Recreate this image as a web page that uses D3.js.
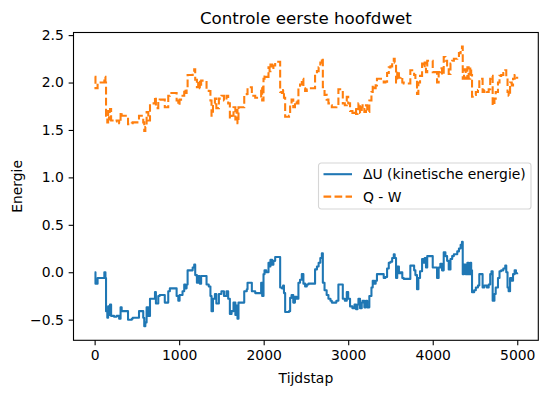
<!DOCTYPE html>
<html>
<head>
<meta charset="utf-8">
<script src="https://cdn.jsdelivr.net/npm/d3@7"></script>
<style>
  body { margin: 0; background: #fff; }
  text { font-family: "DejaVu Sans", sans-serif; }
</style>
</head>
<body>
<svg id="vis-svg" width="547" height="393"></svg>
<script>
var width  = 547;
var height = 393;
var margin = {top: 32.5, bottom: 52.7, left: 73.5, right: 8.7};

// tijdstappen waarop de waarde verandert
const steps = [
  0,10,35,100,115,128,135,150,160,170,
  182,195,230,260,290,307,320,380,395,440,
  450,520,525,560,575,587,600,615,635,655,
  700,714,725,740,753,770,810,830,850,871,
  890,950,970,990,1005,1040,1060,1075,1088,1100,
  1140,1160,1178,1190,1210,1225,1245,1260,1290,1324,
  1350,1370,1383,1400,1423,1440,1470,1500,1530,1560,
  1580,1600,1620,1643,1665,1680,1690,1702,1760,1770,
  1800,1809,1850,1860,1900,1960,1970,1982,1998,2010,
  2030,2057,2070,2080,2100,2115,2136,2190,2195,2215,
  2230,2240,2254,2300,2313,2330,2350,2370,2390,2411,
  2430,2451,2470,2490,2510,2530,2590,2608,2630,2650,
  2670,2688,2700,2720,2745,2766,2790,2806,2860,2884,
  2910,2936,2960,2983,3000,3022,3050,3075,3093,3110,
  3121,3140,3160,3170,3191,3210,3225,3250,3275,3290,
  3310,3325,3340,3360,3380,3400,3420,3440,3460,3480,
  3500,3520,3539,3550,3566,3580,3600,3620,3640,3657,
  3700,3735,3770,3780,3795,3814,3830,3850,3874,3890,
  3905,3920,3935,3985,4000,4051,4070,4090,4110,4130,
  4150,4170,4189,4210,4230,4250,4270,4290,4310,4330,
  4346,4355,4370,4390,4410,4425,4444,4455,4465,4490,
  4510,4535,4551,4575,4590,4610,4640,4662,4680,4695,
  4709,4730,4745,4772,4790,4810,4835,4858,4870,4885,
  4898,4915,4935,4950,4969,4985,4999
];

const deltaU = [
  0.00,-0.12,-0.06,-0.06,0.00,-0.06,-0.41,-0.48,-0.36,-0.45,
  -0.34,-0.46,-0.47,-0.46,-0.49,-0.37,-0.41,-0.41,-0.50,-0.49,
  -0.48,-0.48,-0.41,-0.41,-0.48,-0.57,-0.53,-0.37,-0.46,-0.28,
  -0.28,-0.21,-0.33,-0.33,-0.25,-0.24,-0.24,-0.32,-0.32,-0.20,
  -0.17,-0.17,-0.25,-0.30,-0.24,-0.20,-0.13,-0.17,-0.13,0.02,
  0.02,0.05,0.08,-0.03,-0.11,-0.04,-0.12,-0.04,-0.04,-0.13,
  -0.15,-0.25,-0.41,-0.28,-0.23,-0.33,-0.23,-0.20,-0.25,-0.20,
  -0.28,-0.44,-0.41,-0.32,-0.45,-0.35,-0.49,-0.32,-0.32,-0.20,
  -0.18,-0.11,-0.11,-0.20,-0.22,-0.22,-0.11,-0.25,-0.02,0.02,
  0.00,0.10,0.06,0.13,0.08,0.12,0.16,0.16,-0.16,-0.17,
  -0.14,-0.22,-0.42,-0.41,-0.27,-0.24,-0.32,-0.26,-0.28,-0.11,
  -0.08,-0.02,-0.12,-0.15,-0.13,-0.12,-0.12,0.03,0.06,0.10,
  0.15,0.20,-0.11,-0.19,-0.24,-0.28,-0.30,-0.32,-0.30,-0.13,
  -0.13,-0.28,-0.30,-0.21,-0.28,-0.36,-0.38,-0.34,-0.39,-0.34,
  -0.28,-0.38,-0.32,-0.30,-0.37,-0.30,-0.37,-0.25,-0.16,-0.09,
  -0.12,-0.09,-0.02,-0.02,-0.02,-0.02,-0.06,-0.05,0.04,0.10,
  0.11,0.15,0.19,0.15,-0.06,0.06,-0.01,0.00,-0.06,-0.07,
  -0.07,0.07,0.07,0.02,-0.03,-0.18,-0.06,0.01,0.14,0.10,
  0.15,0.05,0.17,0.17,0.05,-0.06,0.05,0.09,0.02,0.21,
  0.17,0.12,0.03,0.14,0.17,0.19,0.19,0.22,0.25,0.29,
  0.32,-0.02,0.08,-0.02,0.10,-0.02,0.10,0.02,-0.21,-0.19,
  -0.16,-0.14,-0.02,-0.02,-0.16,-0.14,-0.16,-0.13,-0.02,0.01,
  -0.30,-0.23,-0.16,-0.06,0.01,0.02,0.04,0.07,0.00,-0.16,
  -0.20,-0.06,-0.09,-0.02,0.02,-0.01,-0.02
];

const qMinusW = [
  2.06,1.94,2.00,2.00,2.06,2.00,1.65,1.58,1.70,1.61,
  1.72,1.60,1.59,1.60,1.57,1.69,1.65,1.65,1.56,1.57,
  1.58,1.58,1.65,1.65,1.58,1.49,1.53,1.69,1.60,1.78,
  1.78,1.85,1.73,1.73,1.81,1.82,1.82,1.74,1.74,1.86,
  1.89,1.89,1.81,1.76,1.82,1.86,1.93,1.89,1.93,2.08,
  2.08,2.11,2.14,2.03,1.95,2.02,1.94,2.02,2.02,1.93,
  1.91,1.81,1.65,1.78,1.83,1.73,1.83,1.86,1.81,1.86,
  1.78,1.62,1.65,1.74,1.61,1.71,1.57,1.74,1.74,1.86,
  1.88,1.95,1.95,1.86,1.84,1.84,1.95,1.81,2.04,2.08,
  2.06,2.16,2.12,2.19,2.14,2.18,2.22,2.22,1.90,1.89,
  1.92,1.84,1.64,1.65,1.79,1.82,1.74,1.80,1.78,1.95,
  1.98,2.04,1.94,1.91,1.93,1.94,1.94,2.09,2.12,2.16,
  2.21,2.26,1.95,1.87,1.82,1.78,1.76,1.74,1.76,1.93,
  1.93,1.78,1.76,1.85,1.78,1.70,1.68,1.72,1.67,1.72,
  1.78,1.68,1.74,1.76,1.69,1.76,1.69,1.81,1.90,1.97,
  1.94,1.97,2.04,2.04,2.04,2.04,2.00,2.01,2.10,2.16,
  2.17,2.21,2.25,2.21,2.00,2.12,2.05,2.06,2.00,1.99,
  1.99,2.13,2.13,2.08,2.03,1.88,2.00,2.07,2.20,2.16,
  2.21,2.11,2.23,2.23,2.11,2.00,2.11,2.15,2.08,2.27,
  2.23,2.18,2.09,2.20,2.23,2.25,2.25,2.28,2.31,2.35,
  2.38,2.04,2.14,2.04,2.16,2.04,2.16,2.08,1.85,1.87,
  1.90,1.92,2.04,2.04,1.90,1.92,1.90,1.93,2.04,2.07,
  1.76,1.83,1.90,2.00,2.07,2.08,2.10,2.13,2.06,1.90,
  1.86,2.00,1.97,2.04,2.08,2.05,2.04
];

const xTicks = [0,1000,2000,3000,4000,5000];
const yTicks = [-0.5,0.0,0.5,1.0,1.5,2.0,2.5];
const seriesNames = ["\u0394U (kinetische energie)", "Q - W"];
const colors = ["#1f77b4", "#ff7f0e"];

const graphWidth = width - margin.left - margin.right;
const graphHeight = height - margin.top - margin.bottom;

const svg = d3.select("#vis-svg");
const graph = svg.append("g").attr("transform", `translate(${margin.left},${margin.top})`);

// matplotlib-achtige marge van 5%
const xExt = d3.extent(steps);
const yExt = d3.extent(deltaU.concat(qMinusW));
const xPad = (xExt[1] - xExt[0]) * 0.05;
const yPad = (yExt[1] - yExt[0]) * 0.05;

const x = d3.scaleLinear().domain([xExt[0] - xPad, xExt[1] + xPad]).range([0, graphWidth]);
const y = d3.scaleLinear().domain([yExt[0] - yPad, yExt[1] + yPad]).range([graphHeight, 0]);

const line = vals => d3.line()
    .x((d, i) => x(steps[i]))
    .y(d => y(d))
    .curve(d3.curveStepAfter)(vals);

graph.append("path")
    .attr("d", line(deltaU))
    .attr("fill", "none")
    .attr("stroke", colors[0])
    .attr("stroke-width", 2.08)
    .attr("stroke-linejoin", "round");

graph.append("path")
    .attr("d", line(qMinusW))
    .attr("fill", "none")
    .attr("stroke", colors[1])
    .attr("stroke-width", 2.08)
    .attr("stroke-dasharray", "7.7,3.33");

// assen
const xAxis = graph.append("g")
    .attr("transform", `translate(0,${graphHeight})`)
    .call(d3.axisBottom(x).tickValues(xTicks).tickFormat(d3.format("d")).tickSize(4.86).tickPadding(4.86));
const yAxis = graph.append("g")
    .call(d3.axisLeft(y).tickValues(yTicks).tickFormat(d3.format(".1f")).tickSize(4.86).tickPadding(4.86));

[xAxis, yAxis].forEach(a => {
  a.select(".domain").remove();
  a.selectAll("line").attr("stroke", "#000").attr("stroke-width", 1.1);
  a.selectAll("text").attr("font-size", 13.9).attr("fill", "#000").attr("font-family", "DejaVu Sans");
});

graph.append("rect")
    .attr("width", graphWidth).attr("height", graphHeight)
    .attr("fill", "none").attr("stroke", "#000").attr("stroke-width", 1.1);

// titels
svg.append("text")
    .attr("x", margin.left + graphWidth / 2).attr("y", margin.top - 8.3)
    .attr("text-anchor", "middle").attr("font-size", 16.7)
    .text("Controle eerste hoofdwet");

svg.append("text")
    .attr("x", margin.left + graphWidth / 2).attr("y", 383)
    .attr("text-anchor", "middle").attr("font-size", 13.9)
    .text("Tijdstap");

svg.append("text")
    .attr("transform", `translate(22,${margin.top + graphHeight / 2}) rotate(-90)`)
    .attr("text-anchor", "middle").attr("font-size", 13.9)
    .text("Energie");

// legenda
const legend = svg.append("g").attr("transform", "translate(318.5,163)");
legend.append("rect")
    .attr("width", 212.5).attr("height", 46)
    .attr("rx", 2.8)
    .attr("fill", "rgba(255,255,255,0.8)")
    .attr("stroke", "#d6d6d6").attr("stroke-width", 1.1);

seriesNames.forEach((name, i) => {
  const yy = 11.2 + i * 22.4;
  legend.append("line")
      .attr("x1", 5).attr("x2", 33.5).attr("y1", yy).attr("y2", yy)
      .attr("stroke", colors[i]).attr("stroke-width", 2.08)
      .attr("stroke-dasharray", i === 1 ? "7.7,3.33" : null);
  legend.append("text")
      .attr("x", 44.5).attr("y", yy).attr("dy", "0.36em")
      .attr("font-size", 13.9)
      .text(name);
});
</script>
</body>
</html>
